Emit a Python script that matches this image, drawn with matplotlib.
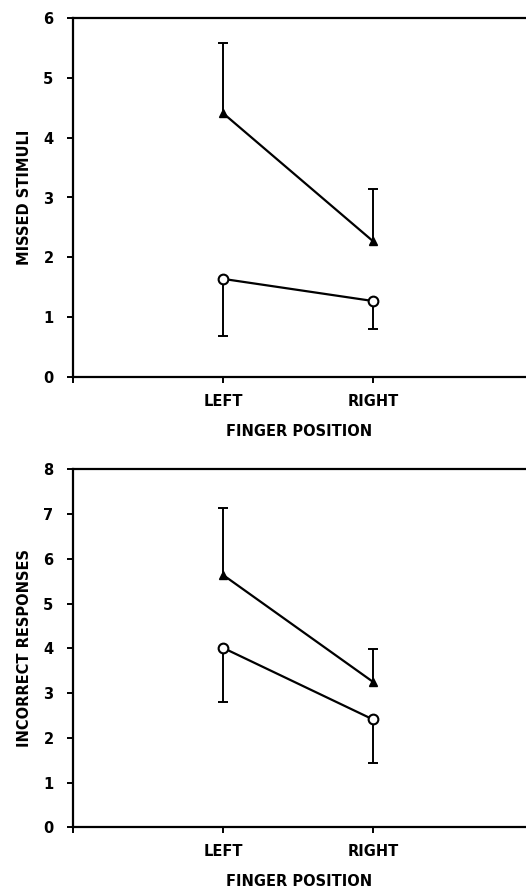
import matplotlib
matplotlib.use("Agg")
import matplotlib.pyplot as plt
import numpy as np

positions = ["LEFT", "RIGHT"]
x_pos = [1, 2]

# Top panel: missed stimuli
missed_tri = [4.41, 2.27]
missed_tri_err_up = [1.17, 0.87]
missed_circ = [1.64, 1.27]
missed_circ_err_down = [0.95, 0.47]

# Bottom panel: incorrect responses
incorrect_tri = [5.64, 3.25]
incorrect_tri_err_up = [1.50, 0.73]
incorrect_circ = [4.01, 2.41]
incorrect_circ_err_down = [1.21, 0.98]

plt.rcParams['font.family'] = ['DejaVu Sans']
plt.rcParams['font.weight'] = 'bold'
FS = 10.5

fig = plt.figure(figsize=(5.26, 8.91), dpi=100)

W = 526.0
H = 891.0
left = 73 / W
width = (W - 73) / W


def one_sided(ax, y, err, sign):
    y = np.asarray(y, dtype=float)
    end = y + sign * np.asarray(err, dtype=float)
    ax.vlines(x_pos, y, end, colors='black', lw=1.4, zorder=2)
    ax.plot(x_pos, end, ls='none', marker='_', ms=7, mew=1.4, color='black', zorder=2)


def panel(ax, tri, tri_up, circ, circ_down, ymax, ylabel):
    one_sided(ax, tri, tri_up, +1)
    one_sided(ax, circ, circ_down, -1)
    ax.plot(x_pos, tri, color='black', lw=1.6, marker='^', ms=6,
            mfc='black', mec='black', zorder=3)
    ax.plot(x_pos, circ, color='black', lw=1.6, marker='o', ms=7,
            mfc='white', mec='black', mew=1.5, zorder=3)
    ax.set_xlim(0, 3.02)
    ax.set_ylim(0, ymax)
    ax.set_xticks([0] + x_pos)
    ax.set_xticklabels([''] + positions, fontsize=FS, fontweight='bold')
    ax.set_yticks(range(0, ymax + 1))
    ax.set_yticklabels([str(v) for v in range(0, ymax + 1)], fontsize=FS, fontweight='bold')
    ax.tick_params(axis='y', direction='out', length=4, width=1.4, pad=10)
    ax.tick_params(axis='x', direction='out', length=4.5, width=1.4, pad=7.5)
    for s in ['left', 'bottom', 'top']:
        ax.spines[s].set_linewidth(1.6)
    ax.spines['right'].set_visible(False)
    ax.set_ylabel(ylabel, fontsize=FS, fontweight='bold', labelpad=8)
    ax.set_xlabel('FINGER POSITION', fontsize=FS, fontweight='bold', labelpad=11)


ax1 = fig.add_axes([left, 1 - 377 / H, width, 359 / H])
panel(ax1, missed_tri, missed_tri_err_up, missed_circ, missed_circ_err_down, 6, 'MISSED STIMULI')

ax2 = fig.add_axes([left, 1 - 827.3 / H, width, 358 / H])
panel(ax2, incorrect_tri, incorrect_tri_err_up, incorrect_circ, incorrect_circ_err_down, 8, 'INCORRECT RESPONSES')

fig.savefig('out.png', dpi=100)
